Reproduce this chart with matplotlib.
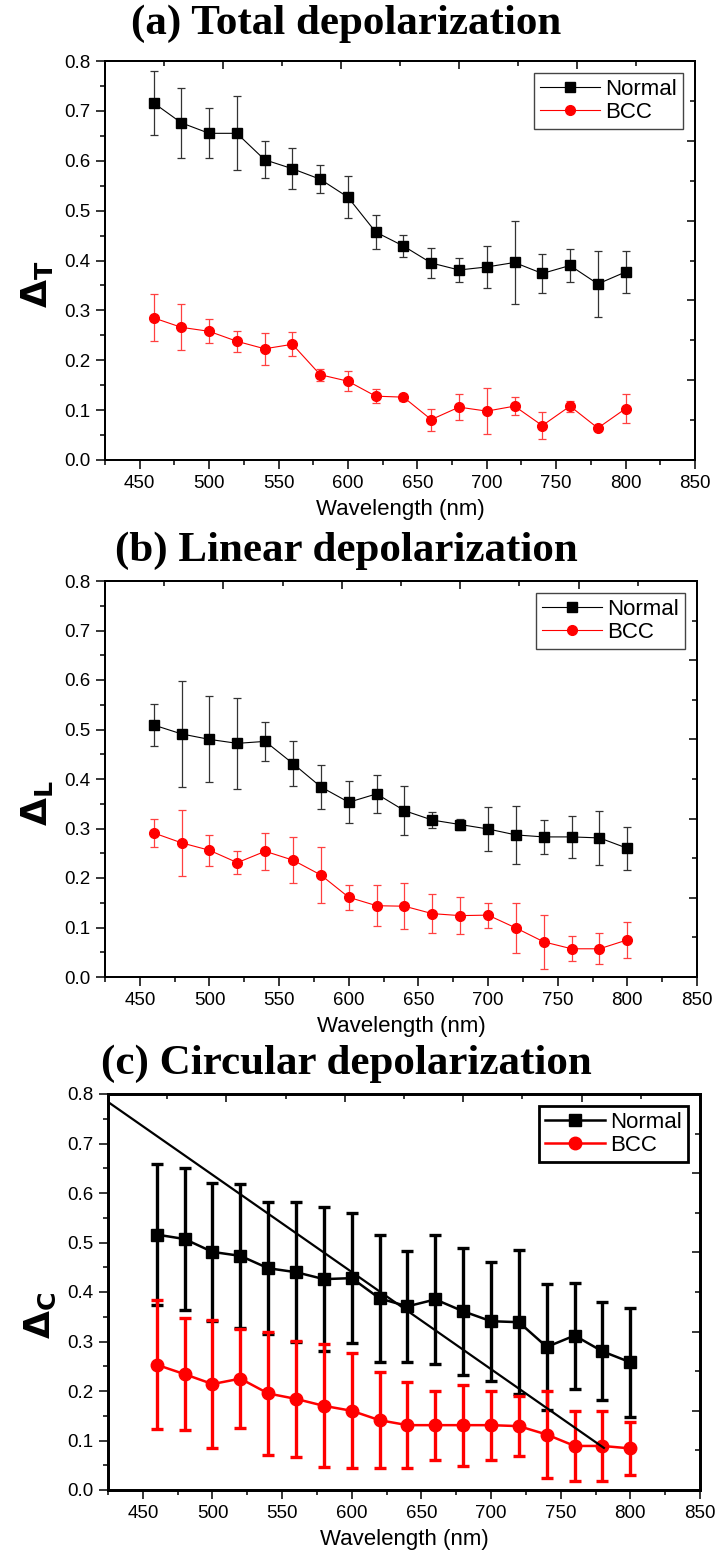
import numpy as np
import matplotlib
matplotlib.use("Agg")
import matplotlib.pyplot as plt
from matplotlib.ticker import MultipleLocator
from matplotlib.lines import Line2D

plt.rcParams["font.family"] = ["Liberation Sans", "DejaVu Sans"]
plt.rcParams["mathtext.fontset"] = "dejavusans"

# wavelength (nm)
wavelength = [460, 480, 500, 520, 540, 560, 580, 600, 620,
              640, 660, 680, 700, 720, 740, 760, 780, 800]

# (a) total depolarization
total_normal = [0.716, 0.676, 0.655, 0.655, 0.602, 0.584, 0.563, 0.527, 0.457,
                0.429, 0.395, 0.381, 0.387, 0.396, 0.374, 0.390, 0.353, 0.377]
total_normal_err = [0.064, 0.070, 0.050, 0.074, 0.037, 0.041, 0.028, 0.042, 0.034,
                    0.022, 0.030, 0.024, 0.043, 0.083, 0.039, 0.034, 0.067, 0.042]
total_bcc = [0.285, 0.266, 0.258, 0.238, 0.223, 0.232, 0.171, 0.158, 0.128,
             0.126, 0.081, 0.106, 0.098, 0.108, 0.069, 0.108, 0.064, 0.103]
total_bcc_err = [0.047, 0.046, 0.024, 0.021, 0.032, 0.024, 0.012, 0.020, 0.014,
                 0.007, 0.022, 0.026, 0.046, 0.018, 0.027, 0.011, 0.004, 0.029]

# (b) linear depolarization
linear_normal = [0.509, 0.491, 0.480, 0.472, 0.476, 0.431, 0.384, 0.353, 0.370,
                 0.336, 0.317, 0.308, 0.299, 0.287, 0.283, 0.283, 0.281, 0.260]
linear_normal_err = [0.043, 0.107, 0.087, 0.092, 0.040, 0.045, 0.044, 0.042, 0.038,
                     0.050, 0.016, 0.012, 0.044, 0.058, 0.034, 0.043, 0.054, 0.043]
linear_bcc = [0.291, 0.271, 0.256, 0.231, 0.254, 0.236, 0.206, 0.161, 0.144,
              0.143, 0.128, 0.124, 0.125, 0.099, 0.071, 0.057, 0.057, 0.075]
linear_bcc_err = [0.029, 0.067, 0.031, 0.023, 0.037, 0.046, 0.056, 0.025, 0.041,
                  0.046, 0.039, 0.037, 0.025, 0.050, 0.055, 0.025, 0.031, 0.037]

# (c) circular depolarization
circ_normal = [0.516, 0.507, 0.481, 0.473, 0.448, 0.440, 0.426, 0.428, 0.387,
               0.371, 0.385, 0.361, 0.341, 0.339, 0.289, 0.312, 0.280, 0.258]
circ_normal_err = [0.142, 0.143, 0.140, 0.146, 0.133, 0.142, 0.145, 0.131, 0.128,
                   0.112, 0.130, 0.128, 0.120, 0.146, 0.128, 0.107, 0.099, 0.110]
circ_bcc = [0.253, 0.234, 0.214, 0.225, 0.195, 0.184, 0.170, 0.160, 0.141,
            0.131, 0.131, 0.131, 0.131, 0.129, 0.112, 0.089, 0.089, 0.084]
circ_bcc_err = [0.130, 0.113, 0.130, 0.100, 0.124, 0.118, 0.124, 0.116, 0.097,
                0.087, 0.070, 0.082, 0.070, 0.060, 0.087, 0.070, 0.070, 0.053]

# straight guide line drawn across panel (c)
guide_x = [426, 781]
guide_y = [0.782, 0.085]

titles = ["(a) Total depolarization", "(b) Linear depolarization",
          "(c) Circular depolarization"]
ylabels = [r"$\mathbf{\Delta}_{\mathbf{T}}$", r"$\mathbf{\Delta}_{\mathbf{L}}$",
           r"$\mathbf{\Delta}_{\mathbf{C}}$"]

XMIN, XMAX = 425, 850
W, H = 718, 1557

# axes boxes in pixels: left, top, right, bottom
boxes = [(105, 61, 695, 460), (105, 581, 697, 977), (108, 1094, 700, 1490)]
title_y = [24, 551, 1064]


def box_to_rect(b):
    l, t, r, bt = b
    return [l / W, 1 - bt / H, (r - l) / W, (bt - t) / H]


fig = plt.figure(figsize=(W / 100, H / 100), dpi=100)

panels = [
    (total_normal, total_normal_err, total_bcc, total_bcc_err, False),
    (linear_normal, linear_normal_err, linear_bcc, linear_bcc_err, False),
    (circ_normal, circ_normal_err, circ_bcc, circ_bcc_err, True),
]

for i, (nv, ne, bv, be, heavy) in enumerate(panels):
    ax = fig.add_axes(box_to_rect(boxes[i]))
    lw = 1.8 if heavy else 0.8
    elw = 2.4 if heavy else 0.9
    ms = 9 if heavy else 7
    cap = 4 if heavy else 3.2
    spw = 1.8 if heavy else 1.2

    ax.errorbar(wavelength, nv, yerr=ne, color="black", lw=lw, marker="s", ms=ms,
                ecolor="black" if heavy else "#333333", elinewidth=elw,
                capsize=cap, capthick=elw, zorder=3)
    ax.errorbar(wavelength, bv, yerr=be, color="red", lw=lw, marker="o", ms=ms,
                ecolor="red" if heavy else "#ff4040", elinewidth=elw,
                capsize=cap, capthick=elw, zorder=4)
    if heavy:
        ax.plot(guide_x, guide_y, color="black", lw=1.6, zorder=5)

    ax.set_xlim(XMIN, XMAX)
    ax.set_ylim(0, 0.8)
    ax.xaxis.set_major_locator(MultipleLocator(50))
    ax.xaxis.set_minor_locator(MultipleLocator(25))
    ax.yaxis.set_major_locator(MultipleLocator(0.1))
    ax.yaxis.set_minor_locator(MultipleLocator(0.05))
    ax.yaxis.set_major_formatter(plt.FuncFormatter(lambda v, p: f"{v:.1f}"))
    ax.tick_params(which="major", direction="out", length=6.5, width=1.1,
                   labelsize=13.5, pad=4)
    ax.tick_params(which="minor", direction="out", length=3.6, width=1.1)
    for s in ax.spines.values():
        s.set_linewidth(spw)

    # mirrored axes on top/right, ticks pointing in
    top = ax.twiny()
    top.set_xlim(XMIN, XMAX)
    top.set_xticks(np.linspace(XMIN, XMAX, 6))
    top.set_xticks(np.linspace(XMIN, XMAX, 11), minor=True)
    top.tick_params(axis="x", which="major", direction="in", length=6, width=1.1,
                    labeltop=False)
    top.tick_params(axis="x", which="minor", direction="in", length=3.5, width=1.1)
    right = ax.twinx()
    right.set_ylim(0, 0.8)
    right.set_yticks(np.linspace(0, 0.8, 6))
    right.set_yticks(np.linspace(0, 0.8, 11), minor=True)
    right.tick_params(axis="y", which="major", direction="in", length=6, width=1.1,
                      labelright=False)
    right.tick_params(axis="y", which="minor", direction="in", length=3.5, width=1.1)
    for a in (top, right):
        for s in a.spines.values():
            s.set_linewidth(spw)

    ax.set_xlabel("Wavelength (nm)", fontsize=16, labelpad=5)
    ax.set_ylabel(ylabels[i], fontsize=26)
    ax.yaxis.set_label_coords(-0.085, 0.44)

    handles = [
        Line2D([0], [0], color="black", lw=lw, marker="s", ms=ms, label="Normal"),
        Line2D([0], [0], color="red", lw=lw, marker="o", ms=ms, label="BCC"),
    ]
    leg = right.legend(handles=handles, loc="upper right", fontsize=16, numpoints=1,
                       fancybox=False, framealpha=1,
                       edgecolor="black" if heavy else "#444444",
                       handlelength=2.7, handletextpad=0.25, borderpad=0.25,
                       labelspacing=0.1, borderaxespad=0.55)
    leg.get_frame().set_linewidth(2.0 if heavy else 1.0)

    fig.text(0.482, 1 - title_y[i] / H, titles[i], ha="center", va="center",
             fontsize=31, fontweight="bold", family=["Liberation Serif", "DejaVu Serif"])

fig.savefig("out.png", dpi=100)
